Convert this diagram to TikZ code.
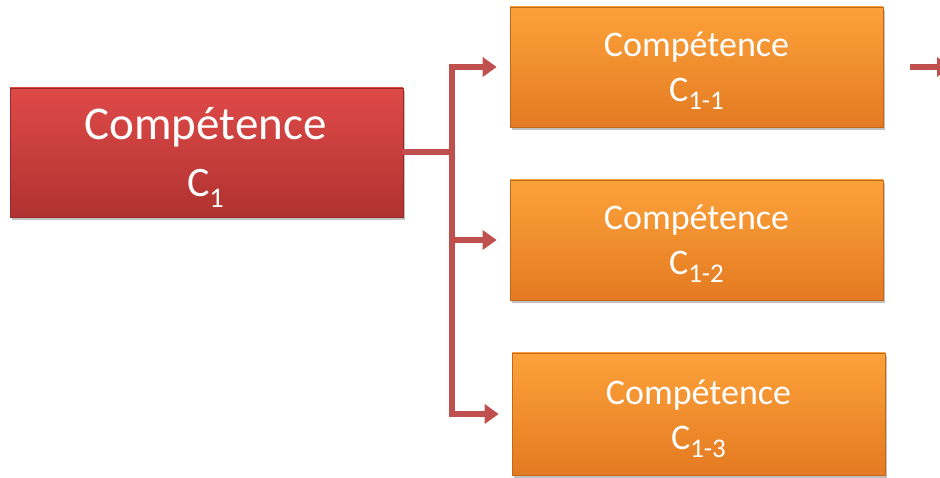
\documentclass[tikz,border=0pt]{standalone}
\usepackage{fontspec}
\setmainfont{Carlito}
\usetikzlibrary{arrows.meta,shadows}
\definecolor{redtop}{RGB}{222,74,72}
\definecolor{redbot}{RGB}{176,50,48}
\definecolor{ortop}{RGB}{252,162,58}
\definecolor{orbot}{RGB}{228,122,34}
\definecolor{linkc}{RGB}{192,80,77}
\newcommand{\subred}[1]{\raisebox{-11pt}{\fontsize{28.5}{30}\selectfont #1}}
\newcommand{\subor}[1]{\raisebox{-8pt}{\fontsize{27}{30}\selectfont #1}}
\tikzset{
  boxbase/.style={rectangle, line width=0.6pt,
    drop shadow={shadow xshift=1.5pt, shadow yshift=-3pt, opacity=0.35, fill=black!70}},
  redbox/.style={boxbase, draw=redbot!85!black, top color=redtop, bottom color=redbot,
    minimum width=393pt, minimum height=129pt},
  orbox/.style={boxbase, draw=orbot!85!black, top color=ortop, bottom color=orbot,
    minimum width=373pt, minimum height=120pt},
  boxtext/.style={text=white, anchor=base, inner sep=0pt},
  redt/.style={boxtext, font=\fontsize{47}{56}\selectfont},
  redt2/.style={boxtext, font=\fontsize{42}{50}\selectfont},
  ort/.style={boxtext, font=\fontsize{36}{44}\selectfont},
  link/.style={draw=linkc, line width=6pt},
  linkarrow/.style={link, -{Triangle[length=14pt,width=19pt]}, shorten >=13pt}
}
\begin{document}
\begin{tikzpicture}[x=1pt,y=-1pt]
\useasboundingbox (0,0) rectangle (940,478);
\clip (0,0) rectangle (940,478);
% boxes
\node[redbox] (c1) at (206.5,152.5) {};
\node[orbox] (c11) at (696.5,67) {};
\node[orbox] (c12) at (696.5,240) {};
\node[orbox, minimum height=122pt] (c13) at (698.5,414) {};
% texts
\node[redt] (c1a) at (205.5,140) {Compétence};
\node[redt2] (c1b) at (205.5,196.7) {C\subred{1}};
\node[ort] (c11a) at (696.5,57) {Compétence};
\node[ort] (c11b) at (696.5,102) {C\subor{1-1}};
\node[ort] (c12a) at (696.5,230) {Compétence};
\node[ort] (c12b) at (696.5,275) {C\subor{1-2}};
\node[ort] (c13a) at (698.5,404) {Compétence};
\node[ort] (c13b) at (698.5,449) {C\subor{1-3}};
% connectors
\coordinate (j) at (452,152.5);
\draw[link] (c1.east) -- (j);
\draw[linkarrow] (j) |- (c11.west);
\draw[linkarrow] (j) |- (c12.west);
\draw[linkarrow] (j) |- (c13.west);
\coordinate (r0) at (910,67);
\coordinate (r1) at (965,67);
\draw[link, -{Triangle[length=14pt,width=19pt]}, shorten >=14pt] (r0) -- (r1);
\end{tikzpicture}
\end{document}
